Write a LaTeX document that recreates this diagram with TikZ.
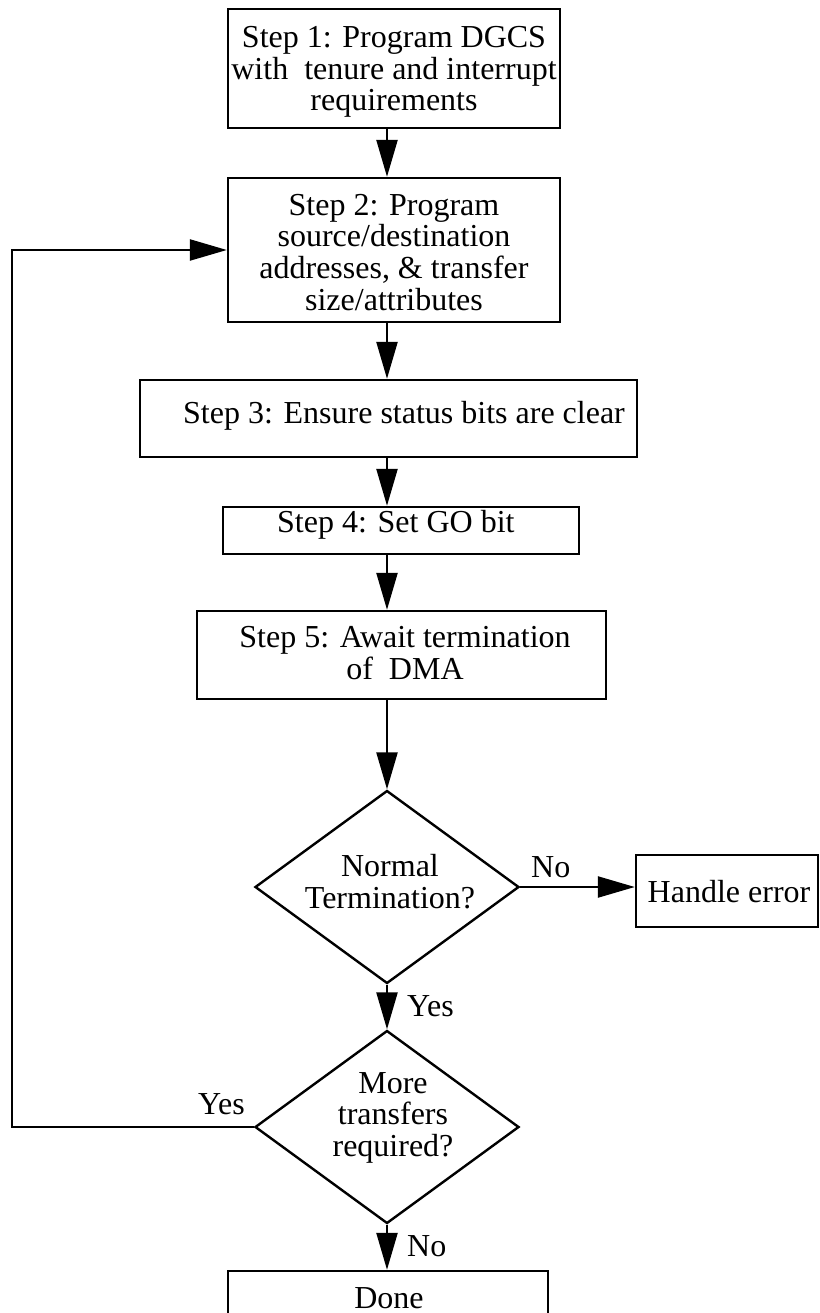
\documentclass[tikz,border=0pt]{standalone}
\usepackage{fontspec}
\setmainfont{Liberation Serif}
\usetikzlibrary{arrows.meta,shapes.geometric}
\begin{document}
\begin{tikzpicture}[x=1pt,y=-1pt,
  box/.style={draw, line width=2.4pt, inner sep=0pt},
  dia/.style={draw, diamond, line width=2.4pt, inner sep=0pt, minimum width=264pt, minimum height=193pt},
  txt/.style={font=\fontsize{32}{31.5}\selectfont, align=center, inner sep=0pt},
  arr/.style={line width=2.4pt, -{Triangle[length=37pt,width=21pt]}}]
\useasboundingbox (0,0) rectangle (819,1313);
\coordinate (sp) at (387,0);
\coordinate (lp) at (12,0);
% boxes
\node[box, minimum width=332pt, minimum height=119pt] (b1) at (394,68.5) {};
\node[box, minimum width=332pt, minimum height=144pt] (b2) at (394,250) {};
\node[box, minimum width=497pt, minimum height=77pt] (b3) at (388.5,418.5) {};
\node[box, minimum width=356pt, minimum height=47pt] (b4) at (401,530.5) {};
\node[box, minimum width=409pt, minimum height=88pt] (b5) at (401.5,655) {};
\node[dia] (d1) at (387,887) {};
\node[dia] (d2) at (387,1127) {};
\node[box, minimum width=182pt, minimum height=72pt] (he) at (727,891) {};
\node[box, minimum width=320pt, minimum height=69pt] (dn) at (388,1305.5) {};
% texts (base anchor = baseline of last line)
\node[txt, anchor=base] (t1) at (394,111) {Step 1: Program DGCS\\with~ tenure and interrupt\\requirements};
\node[txt, anchor=base] (t2) at (394,310) {Step 2: Program\\source/destination\\addresses, \& transfer\\size/attributes};
\node[txt, anchor=base west] (t3) at (183,423) {Step 3: Ensure status bits are clear};
\node[txt, anchor=base west] (t4) at (277,532) {Step 4: Set GO bit};
\node[txt, anchor=base] (t5) at (405,679) {Step 5: Await termination\\of~ DMA};
\node[txt, anchor=base] (t6) at (390,908) {Normal\\Termination?};
\node[txt, anchor=base] (t7) at (393,1156) {More\\transfers\\required?};
\node[txt, anchor=base] (t8) at (729,902) {Handle error};
\node[txt, anchor=base] (t9) at (389,1308) {Done};
% labels
\node[txt, anchor=base west] (l1) at (531,877) {No};
\node[txt, anchor=base west] (l2) at (407,1016) {Yes};
\node[txt, anchor=base west] (l3) at (198,1114) {Yes};
\node[txt, anchor=base west] (l4) at (407,1256) {No};
% connectors
\draw[arr] (b1.south -| sp) -- (b2.north -| sp);
\draw[arr] (b2.south -| sp) -- (b3.north -| sp);
\draw[arr] (b3.south -| sp) -- (b4.north -| sp);
\draw[arr] (b4.south -| sp) -- (b5.north -| sp);
\draw[arr] (b5.south -| sp) -- (d1.north);
\draw[arr] (d1.east) -- (d1.east -| he.west);
\draw[arr] (d1.south) -- (d2.north);
\draw[arr] (d2.south) -- (dn.north -| d2.south);
\draw[arr] (d2.west) -- (d2.west -| lp) -- (b2.west -| lp) -- (b2.west);
\end{tikzpicture}
\end{document}
